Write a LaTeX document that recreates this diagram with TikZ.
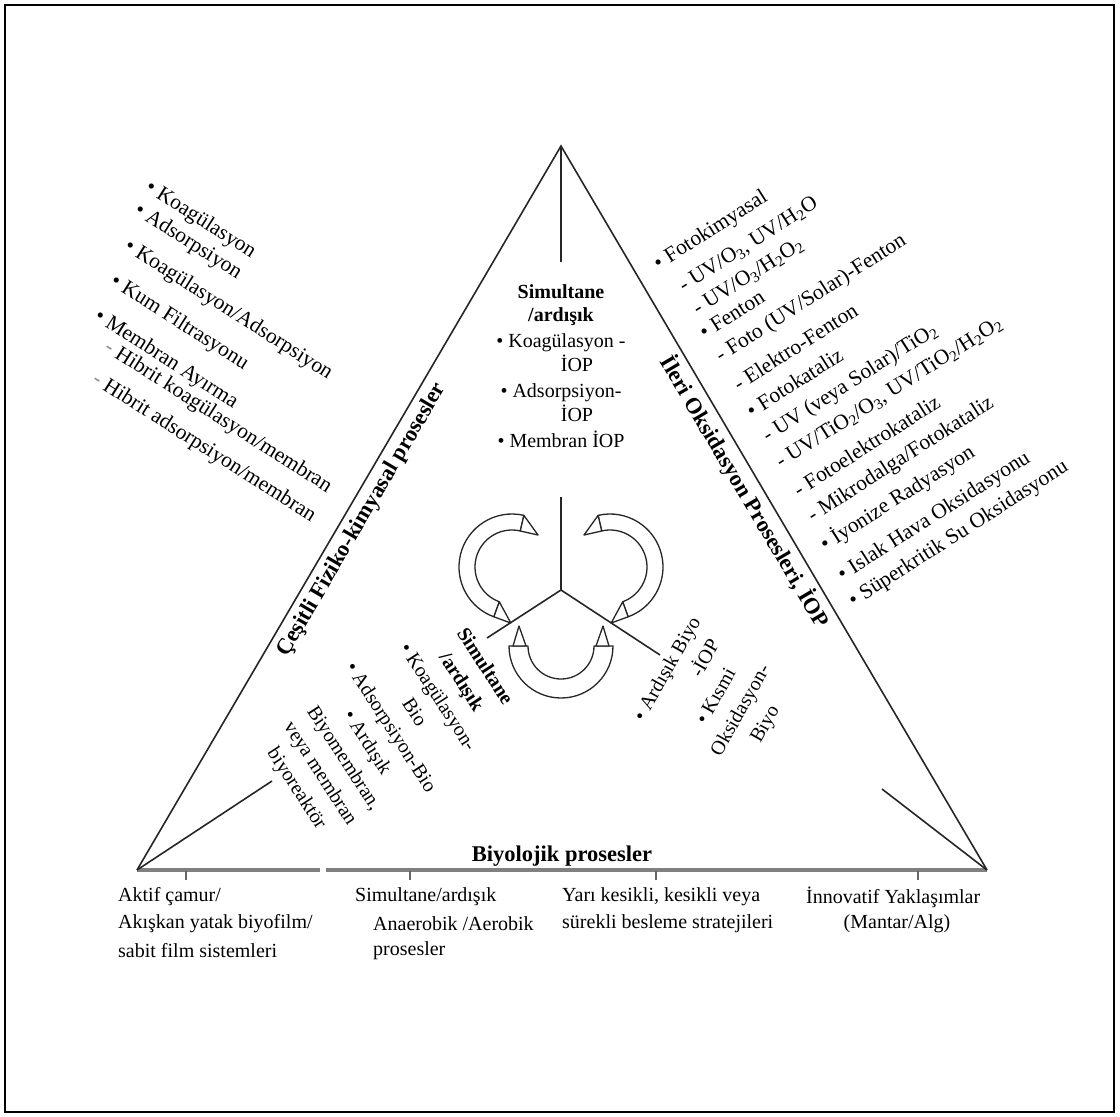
\documentclass[tikz,border=0pt]{standalone}
\usepackage{fontspec}
\setmainfont{Liberation Serif}
\usetikzlibrary{calc}
\begin{document}
\begin{tikzpicture}[x=1pt,y=-1pt,
  txt/.style={inner sep=0pt, font=\fontsize{20}{24}\selectfont},
  ltxt/.style={txt, anchor=west, rotate=-32.5, font=\fontsize{21.5}{24}\selectfont},
  rtxt/.style={txt, anchor=west, rotate=32.5, font=\fontsize{21.5}{24}\selectfont},
  btxt/.style={txt, anchor=west},
  ttl/.style={inner sep=0pt, font=\fontsize{22.5}{26}\selectfont\bfseries},
  side/.style={line width=1.6pt, black!85},
  base/.style={line width=3.5pt, black!50},
  tickmark/.style={line width=1.4pt, black!60},
  band/.style={line width=1.3pt, black!85, line join=round, fill=white},
  frame/.style={line width=1.2pt, black}
]
\useasboundingbox (0,0) rectangle (1120,1117);
\draw[frame] (5,5) rectangle (1114,1112);

% main triangle
\coordinate (A) at (561,146);
\coordinate (L) at (137,870);
\coordinate (R) at (987,870);
\coordinate (G1) at (320,870);
\coordinate (G2) at (326,870);
\draw[base] (L) -- (G1);
\draw[base] (G2) -- (R);
\draw[side] (L) -- (A) -- (R);

% inner spokes
\coordinate (Aend) at (561,262);
\coordinate (Lend) at (272,781);
\coordinate (Rend) at (882,789);
\draw[side] (A) -- (Aend);
\draw[side] (L) -- (Lend);
\draw[side] (R) -- (Rend);

% central Y
\coordinate (C) at (561,590);
\coordinate (Ytop) at (561,497);
\coordinate (Yl) at (487,638);
\coordinate (Yr) at (660,655);
\draw[side] (Ytop) -- (C) -- (Yl);
\draw[side] (C) -- (Yr);

% ticks
\foreach \x in {186,410,656,918}{\draw[tickmark] (\x,871) -- (\x,880);}

% curved double arrows
\coordinate (O1) at (512,567);
\coordinate (O2) at (610,567);
\coordinate (O3) at (561,646);
\draw[band] ($(O1)+(-77:53)$) arc[start angle=-77, end angle=-250, radius=53]
  -- ($(O1)+(-250:37)$) arc[start angle=-250, end angle=-77, radius=37] -- cycle;
\draw[band] (523.9,515.4) -- (520.3,531) -- (538,535) -- cycle;
\draw[band] (499.3,601.8) -- (493.9,616.8) -- (510.8,623) -- cycle;

\draw[band] ($(O2)+(-103:53)$) arc[start angle=-103, end angle=70, radius=53]
  -- ($(O2)+(70:37)$) arc[start angle=70, end angle=-103, radius=37] -- cycle;
\draw[band] (598.1,515.4) -- (601.7,531) -- (584,535) -- cycle;
\draw[band] (622.7,601.8) -- (628.1,616.8) -- (611.2,623) -- cycle;

\draw[band] ($(O3)+(180:52)$) arc[start angle=180, end angle=0, radius=52]
  -- ($(O3)+(0:33)$) arc[start angle=0, end angle=180, radius=33] -- cycle;
\draw[band] (513,646) -- (526,646) -- (519,626) -- cycle;
\draw[band] (609,646) -- (596,646) -- (603,626) -- cycle;

% top centre block
\node[txt, align=center, anchor=north] (top) at (561,284)
  {\textbf{Simultane}\\[-1pt]\textbf{/ardışık}\\[2pt]
   • Koagülasyon -\\\hspace{1.6em}İOP\\[2pt]
   • Adsorpsiyon-\\\hspace{1.6em}İOP\\[2pt]
   • Membran İOP};

% side titles
\node[ttl, rotate=59.6] (ltitle) at (362,520) {Çeşitli Fiziko-kimyasal prosesler};
\node[ttl, rotate=-59.5] (rtitle) at (745,492) {İleri Oksidasyon Prosesleri, İOP};
\node[ttl] (btitle) at (562,856) {Biyolojik prosesler};

% left list
\node[ltxt] (l1) at (147,186) {• Koagülasyon};
\node[ltxt] (l2) at (136,209) {• Adsorpsiyon};
\node[ltxt] (l3) at (126,245) {• Koagülasyon/Adsorpsiyon};
\node[ltxt] (l4) at (112,280) {• Kum Filtrasyonu};
\node[ltxt] (l5) at (96,315) {• Membran Ayırma};
\node[ltxt] (l6) at (106,346) {{\color{black!45}-} Hibrit koagülasyon/membran};
\node[ltxt] (l7) at (94,378) {{\color{black!45}-} Hibrit adsorpsiyon/membran};

% right list
\node[rtxt] (r1) at (656,266) {• Fotokimyasal};
\node[rtxt] (r2) at (681,288) {- UV/O\textsubscript{3}, UV/H\textsubscript{2}O};
\node[rtxt] (r3) at (695,311) {- UV/O\textsubscript{3}/H\textsubscript{2}O\textsubscript{2}};
\node[rtxt] (r4) at (701,334) {• Fenton};
\node[rtxt] (r5) at (718,358) {- Foto (UV/Solar)-Fenton};
\node[rtxt] (r6) at (735,385) {- Elektro-Fenton};
\node[rtxt] (r7) at (748,412) {• Fotokataliz};
\node[rtxt] (r8) at (765,438) {- UV (veya Solar)/TiO\textsubscript{2}};
\node[rtxt] (r9) at (778,464) {- UV/TiO\textsubscript{2}/O\textsubscript{3}, UV/TiO\textsubscript{2}/H\textsubscript{2}O\textsubscript{2}};
\node[rtxt] (r10) at (795,491) {- Fotoelektrokataliz};
\node[rtxt] (r11) at (810,518) {- Mikrodalga/Fotokataliz};
\node[rtxt] (r12) at (822,546) {• İyonize Radyasyon};
\node[rtxt] (r13) at (840,577) {• Islak Hava Oksidasyonu};
\node[rtxt] (r14) at (851,603) {• Süperkritik Su Oksidasyonu};

% inner rotated blocks
\node[txt, align=center, rotate=-57, font=\fontsize{20}{28}\selectfont] (lblock) at (390,728)
  {\textbf{Simultane}\\\textbf{/ardışık}\\• Koagülasyon-\\Bio\\• Adsorpsiyon-Bio\\• Ardışık\\Biyomembran,\\veya membran\\biyoreaktör};
\node[txt, align=center, rotate=60.5, font=\fontsize{20}{28}\selectfont] (rblock) at (717,697)
  {• Ardışık Biyo\\\hspace{2.8em}-İOP\\• Kısmi\\Oksidasyon-\\Biyo};

% bottom labels
\node[btxt] (b1a) at (118,897) {Aktif çamur/};
\node[btxt] (b1b) at (118,924) {Akışkan yatak biyofilm/};
\node[btxt] (b1c) at (118,951) {sabit film sistemleri};
\node[btxt] (b2a) at (355,897) {Simultane/ardışık};
\node[btxt] (b2b) at (373,924) {Anaerobik /Aerobik};
\node[btxt] (b2c) at (373,951) {prosesler};
\node[btxt] (b3a) at (562,897) {Yarı kesikli, kesikli veya};
\node[btxt] (b3b) at (562,924) {sürekli besleme stratejileri};
\node[btxt] (b4a) at (806,897) {İnnovatif Yaklaşımlar};
\node[txt] (b4b) at (897,924) {(Mantar/Alg)};
\end{tikzpicture}
\end{document}
